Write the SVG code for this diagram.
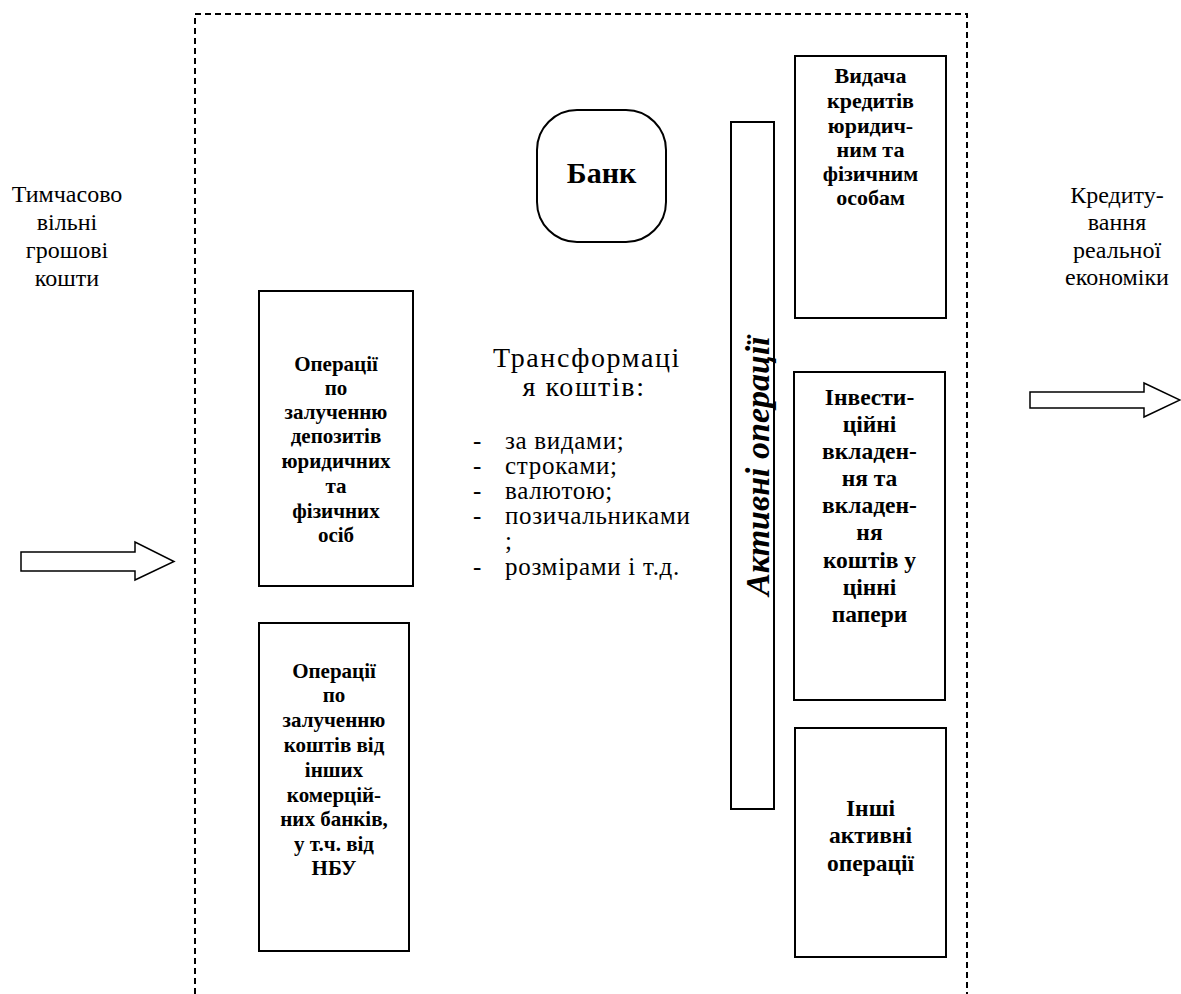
<svg xmlns="http://www.w3.org/2000/svg" width="1181" height="994" viewBox="0 0 1181 994">
<style>
.bx{fill:#fff;stroke:#000;stroke-width:2}
.bt{font-family:"Liberation Serif","Times New Roman",serif;font-weight:bold;font-size:21px;text-anchor:middle;fill:#000}
.rt{font-family:"Liberation Serif","Times New Roman",serif;font-size:24px;text-anchor:middle;fill:#000}
.mt{font-family:"Liberation Serif","Times New Roman",serif;font-size:25px;letter-spacing:0.7px;fill:#000}
.arr{fill:#fff;stroke:#000;stroke-width:1.5}
.dash{fill:none;stroke:#000;stroke-width:2;stroke-dasharray:6 4}
</style>
<rect width="1181" height="994" fill="#fff"/>
<g id="bank-boundary">
<path class="dash" d="M195,994 V14 H967 V994"/>
</g>
<g id="source-label">
<text class="rt"><tspan x="67" y="202">Тимчасово</tspan><tspan x="67" y="230">вільні</tspan><tspan x="67" y="258">грошові</tspan><tspan x="67" y="286">кошти</tspan></text>
</g>
<g id="target-label">
<text class="rt"><tspan x="1117" y="203">Кредиту-</tspan><tspan x="1117" y="230">вання</tspan><tspan x="1117" y="258">реальної</tspan><tspan x="1117" y="285">економіки</tspan></text>
</g>
<g id="connectors">
<polygon class="arr" points="21,552 135,552 135,542 174,561.5 135,580 135,571 21,571"/>
<polygon class="arr" points="1030,392 1144,392 1144,383 1180,400 1144,417 1144,408 1030,408"/>
</g>
<g id="bank">
<rect class="bx" x="537" y="110" width="129" height="132" rx="40" ry="40"/>
<text class="bt" x="601.5" y="183" style="font-size:30px">Банк</text>
</g>
<g id="deposits">
<rect class="bx" x="259" y="291" width="154" height="295"/>
<text class="bt"><tspan x="336" y="371">Операції</tspan><tspan x="336" y="395">по</tspan><tspan x="336" y="419">залученню</tspan><tspan x="336" y="443">депозитів</tspan><tspan x="336" y="468">юридичних</tspan><tspan x="336" y="493">та</tspan><tspan x="336" y="518">фізичних</tspan><tspan x="336" y="542">осіб</tspan></text>
</g>
<g id="interbank">
<rect class="bx" x="259" y="623" width="150" height="328"/>
<text class="bt"><tspan x="334" y="678">Операції</tspan><tspan x="334" y="702">по</tspan><tspan x="334" y="727">залученню</tspan><tspan x="334" y="752">коштів від</tspan><tspan x="334" y="777">інших</tspan><tspan x="334" y="802">комерцій-</tspan><tspan x="334" y="826">них банків,</tspan><tspan x="334" y="851">у т.ч. від</tspan><tspan x="334" y="875">НБУ</tspan></text>
</g>
<g id="transformation">
<text class="mt" text-anchor="middle" style="font-size:28px;letter-spacing:1.6px"><tspan x="587" y="367">Трансформаці</tspan><tspan x="584" y="396">я коштів:</tspan></text>
<text class="mt"><tspan x="473" y="449">-</tspan><tspan x="505" y="449">за видами;</tspan></text>
<text class="mt"><tspan x="473" y="474">-</tspan><tspan x="505" y="474">строками;</tspan></text>
<text class="mt"><tspan x="473" y="499">-</tspan><tspan x="505" y="499">валютою;</tspan></text>
<text class="mt"><tspan x="473" y="524">-</tspan><tspan x="505" y="524">позичальниками</tspan></text>
<text class="mt"><tspan x="505" y="549">;</tspan></text>
<text class="mt"><tspan x="473" y="575">-</tspan><tspan x="505" y="575">розмірами і т.д.</tspan></text>
</g>
<g id="active-ops">
<rect class="bx" x="731" y="122" width="43" height="687"/>
<text class="bt" transform="translate(769,466) rotate(-90)" style="font-size:34px;font-style:italic" x="0" y="0">Активні операції</text>
</g>
<g id="credits">
<rect class="bx" x="795" y="56" width="151" height="262"/>
<text class="bt" style="font-size:22px"><tspan x="870.5" y="83">Видача</tspan><tspan x="870.5" y="108">кредитів</tspan><tspan x="870.5" y="133">юридич-</tspan><tspan x="870.5" y="157">ним та</tspan><tspan x="870.5" y="181">фізичним</tspan><tspan x="870.5" y="205">особам</tspan></text>
</g>
<g id="investments">
<rect class="bx" x="794" y="372" width="151" height="328"/>
<text class="bt" style="font-size:23.5px"><tspan x="869.5" y="405">Інвести-</tspan><tspan x="869.5" y="432">ційні</tspan><tspan x="869.5" y="459">вкладен-</tspan><tspan x="869.5" y="486">ня та</tspan><tspan x="869.5" y="513">вкладен-</tspan><tspan x="869.5" y="540">ня</tspan><tspan x="869.5" y="568">коштів у</tspan><tspan x="869.5" y="595">цінні</tspan><tspan x="869.5" y="622">папери</tspan></text>
</g>
<g id="other-ops">
<rect class="bx" x="795" y="728" width="151" height="229"/>
<text class="bt" style="font-size:23.5px"><tspan x="870.5" y="816">Інші</tspan><tspan x="870.5" y="843">активні</tspan><tspan x="870.5" y="871">операції</tspan></text>
</g>
</svg>
